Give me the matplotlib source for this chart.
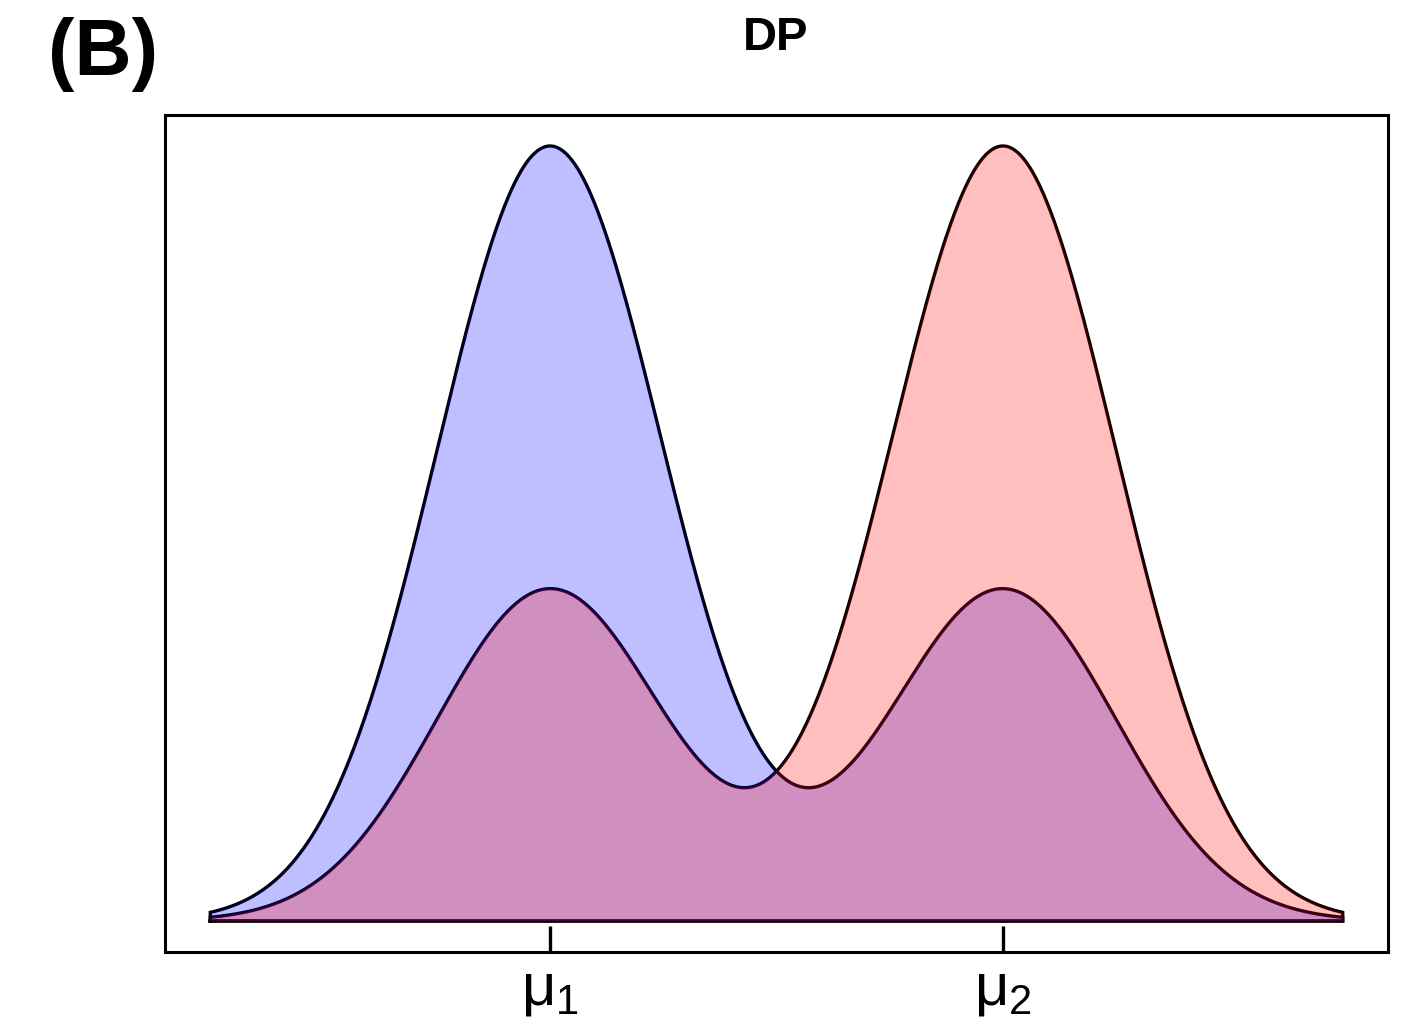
import numpy as np
import matplotlib.pyplot as plt

# mixture parameters
mu = [-2.0, 2.0]
sd = 1.0
w_blue = [0.7, 0.3]
w_red = [0.3, 0.7]
x_range = [-5.0, 5.0]
tick_labels = [r'$\mu_1$', r'$\mu_2$']


def dnorm(x, m, s):
    return np.exp(-0.5 * ((x - m) / s) ** 2) / (s * np.sqrt(2 * np.pi))


def mix(x, w):
    return w[0] * dnorm(x, mu[0], sd) + w[1] * dnorm(x, mu[1], sd)


x = np.linspace(x_range[0], x_range[1], 800)
y_blue = mix(x, w_blue)
y_red = mix(x, w_red)

plt.rcParams['mathtext.fontset'] = 'custom'
plt.rcParams['mathtext.rm'] = 'Liberation Sans'
plt.rcParams['mathtext.it'] = 'Liberation Sans'
plt.rcParams['font.family'] = ['Liberation Sans', 'DejaVu Sans']

fig = plt.figure(figsize=(14.09, 10.23), dpi=100)
ax = fig.add_axes([165 / 1409, 1 - 952 / 1023, (1388 - 165) / 1409, (952 - 115) / 1023])

# closed polygons: outlines first, fills on top (as in the original)
px = np.concatenate([[x[0]], x, [x[-1], x[0]]])
for y in (y_blue, y_red):
    py = np.concatenate([[0], y, [0, 0]])
    ax.plot(px, py, color='black', lw=2.4, zorder=1, solid_joinstyle='miter')
ax.fill(px, np.concatenate([[0], y_blue, [0, 0]]), color='blue', alpha=0.25, lw=0, zorder=2)
ax.fill(px, np.concatenate([[0], y_red, [0, 0]]), color='red', alpha=0.25, lw=0, zorder=2)

ymax = max(y_blue.max(), y_red.max())
dx = (x_range[1] - x_range[0]) * 0.04
ax.set_xlim(x_range[0] - dx, x_range[1] + dx)
ax.set_ylim(-ymax * 0.04, ymax * 1.04)

ax.set_yticks([])
ax.set_xticks(mu)
ax.set_xticklabels(tick_labels, fontsize=43)
ax.tick_params(axis='x', direction='in', length=19, width=2.4, pad=8)
for s in ax.spines.values():
    s.set_linewidth(2.2)

fig.text(776 / 1409, 1 - 38 / 1023, 'DP', fontsize=34, fontweight='bold', ha='center', va='center')
fig.text(48 / 1409, 1 - 55 / 1023, '(B)', fontsize=57, fontweight='bold', ha='left', va='center')

fig.savefig('out.png', dpi=100)
